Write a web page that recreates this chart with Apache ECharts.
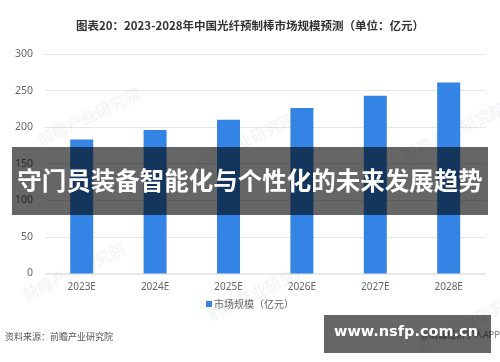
<!DOCTYPE html>
<html>
<head>
<meta charset="utf-8">
<script src="https://cdn.jsdelivr.net/npm/echarts@6/dist/echarts.min.js"></script>
<style>
html,body{margin:0;padding:0;background:#fff;}
#c{width:500px;height:362px;}
</style>
</head>
<body>
<div id="c"></div>
<script>
var categories = ['2023E', '2024E', '2025E', '2026E', '2027E', '2028E'];
var marketSize = [183, 196, 210, 226, 243, 261];
var yTicks = [0, 50, 100, 150, 200, 250, 300];
var titleText = '图表20：2023-2028年中国光纤预制棒市场规模预测（单位：亿元）';
var seriesName = '市场规模（亿元）';
var sourceText = '资料来源：前瞻产业研究院';
var bannerText = '守门员装备智能化与个性化的未来发展趋势';
var badgeText = 'www.nsfp.com.cn';

var cjk = '"Noto Sans CJK SC", "Microsoft YaHei", sans-serif';
var chart = echarts.init(document.getElementById('c'));

var wm = [[75, 95], [60, 250], [245, 270], [440, 110], [455, 300], [230, 120]];
var wmGraphics = wm.map(function (p) {
  return {
    type: 'text', left: p[0] - 40, top: p[1] - 10, rotation: Math.PI / 7, z: 1,
    style: { text: '前瞻产业研究院', fill: 'rgba(150,160,175,0.10)', font: 'bold 16px ' + cjk }
  };
});

chart.setOption({
  animation: false,
  title: {
    text: titleText, left: 'center', top: 15,
    textStyle: { fontSize: 11.5, fontWeight: 'bold', color: '#333', fontFamily: cjk }
  },
  legend: {
    bottom: 48, left: 'center', itemWidth: 6, itemHeight: 6, itemGap: 5,
    icon: 'rect',
    textStyle: { fontSize: 10, color: '#666', fontFamily: cjk, padding: [0, 0, 0, -3] },
    data: [seriesName]
  },
  grid: { left: 45, right: 14.6, top: 54, bottom: 88.6 },
  xAxis: {
    type: 'category', data: categories,
    axisTick: { show: false },
    axisLine: { lineStyle: { color: '#e6e6e6', width: 1.5 } },
    axisLabel: { color: '#666', fontSize: 10, margin: 9, fontFamily: '"Noto Sans", sans-serif' }
  },
  yAxis: {
    type: 'value', min: yTicks[0], max: yTicks[yTicks.length - 1], interval: 50,
    axisLine: { show: false }, axisTick: { show: false },
    splitLine: { lineStyle: { color: '#e6e6e6' } },
    axisLabel: { color: '#666', fontSize: 10.5, margin: 12, fontFamily: '"Noto Sans", sans-serif' }
  },
  series: [{
    name: seriesName, type: 'bar', data: marketSize, barWidth: 23,
    itemStyle: { color: '#3484e5' }
  }],
  graphic: wmGraphics.concat([
    {
      type: 'rect', left: 12, top: 147, z: 100,
      shape: { width: 476, height: 68 },
      style: { fill: 'rgba(0,0,0,0.6)' }
    },
    {
      type: 'text', left: 'center', top: 168, z: 101,
      style: { text: bannerText, fill: '#fff', font: 'bold 24.5px ' + cjk }
    },
    {
      type: 'text', left: 5, top: 332, z: 50,
      style: { text: sourceText, fill: '#555', font: '9px ' + cjk }
    },
    {
      type: 'text', right: 0, top: 330, z: 50,
      style: { text: '@前瞻经济学人APP', fill: '#777', font: '9px ' + cjk }
    },
    {
      type: 'rect', left: 324, top: 315, z: 100,
      shape: { width: 167, height: 38 },
      style: { fill: 'rgba(0,0,0,0.6)' }
    },
    {
      type: 'text', left: 334, top: 325, z: 101,
      style: { text: badgeText, fill: '#fff', font: 'bold 14.5px "DejaVu Sans", sans-serif' }
    }
  ])
});
</script>
</body>
</html>
